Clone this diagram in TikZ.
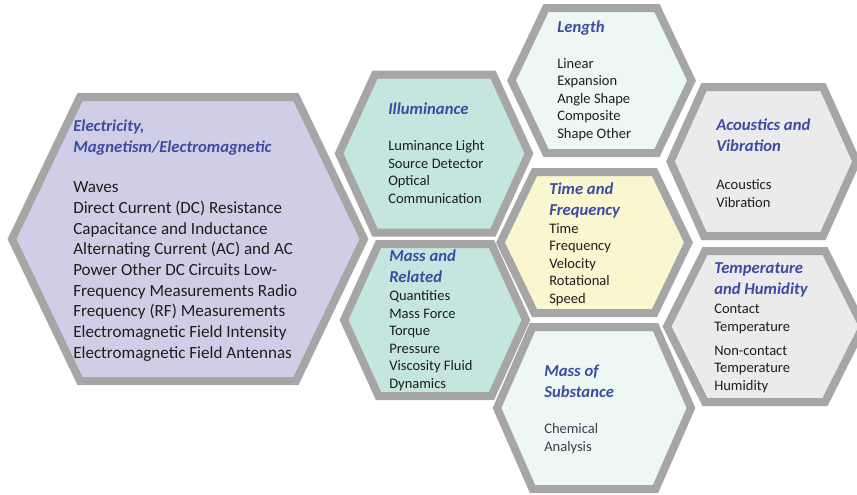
\documentclass[tikz,border=0pt]{standalone}
\usepackage{fontspec}
\setmainfont{Carlito}

\definecolor{cellgray}{HTML}{A6A6A6}
\definecolor{headblue}{HTML}{3C4BA3}
\definecolor{bodyblack}{HTML}{1E1E1E}
\definecolor{subgray}{HTML}{3A3E4E}
\definecolor{lavfill}{HTML}{D0CEE7}
\definecolor{tealfill}{HTML}{C5E5DF}
\definecolor{mintfill}{HTML}{EDF7F3}
\definecolor{yelfill}{HTML}{FAF6CF}
\definecolor{greyfill}{HTML}{EBEBEB}

\tikzset{
  cell/.style={draw=cellgray,line width=6pt,line join=miter},
  head/.style={anchor=base west,align=left,inner sep=0pt,text=headblue,
    font=\fontsize{12.5}{15.3}\selectfont\bfseries\itshape},
  body/.style={anchor=base west,align=left,inner sep=0pt,text=bodyblack,
    font=\fontsize{10.9}{13.1}\selectfont},
  bigbody/.style={body,font=\fontsize{12.8}{15.5}\selectfont},
}

% fill, centre x, centre y, half width, half top edge, half height
\newcommand{\hexcell}[6]{%
  \draw[cell,fill=#1] ({#2-#4},#3) -- ({#2-#5},{#3-#6}) -- ({#2+#5},{#3-#6})
    -- ({#2+#4},#3) -- ({#2+#5},{#3+#6}) -- ({#2-#5},{#3+#6}) -- cycle;}

\begin{document}
\begin{tikzpicture}[x=0.75pt,y=-0.75pt]
\useasboundingbox (0,0) rectangle (857,494);

% hexagon cells:
\hexcell{lavfill}{188}{239}{176}{108}{142}
\hexcell{tealfill}{434}{153.5}{95}{59}{79}
\hexcell{mintfill}{601.5}{80.5}{90}{55.5}{72.5}
\hexcell{yelfill}{594.5}{242.5}{94}{60}{70.5}
\hexcell{greyfill}{763.5}{161.5}{93}{59.5}{74.5}
\hexcell{greyfill}{765}{326.5}{98}{60}{75.5}
\hexcell{tealfill}{435}{320}{91}{56.5}{76}
\hexcell{mintfill}{594}{408}{97}{61.5}{81}

% labels (anchored at the last baseline):
\node[head] (elec-head) at (73,152) {Electricity,\\Magnetism/Electromagnetic};
\node[bigbody] (elec-body) at (73,358) {Waves\\Direct Current (DC) Resistance\\Capacitance and Inductance\\Alternating Current (AC) and AC\\Power Other DC Circuits Low-\\Frequency Measurements Radio\\Frequency (RF) Measurements\\Electromagnetic Field Intensity\\Electromagnetic Field Antennas};

\node[head] (illum-head) at (388,114) {Illuminance};
\node[body] (illum-body) at (388,203) {Luminance Light\\Source Detector\\Optical\\Communication};

\node[head] (len-head) at (557,32) {Length};
\node[body] (len-body) at (557,138) {Linear\\Expansion\\Angle Shape\\Composite\\Shape Other};

\node[head] (time-head) at (549,215) {Time and\\Frequency};
\node[body] (time-body) at (549,303) {Time\\Frequency\\Velocity\\Rotational\\Speed};

\node[head] (acou-head) at (716,151) {Acoustics and\\Vibration};
\node[body] (acou-body) at (716,207) {Acoustics\\Vibration};

\node[head] (temp-head) at (714,294) {Temperature\\and Humidity};
\node[body] (temp-body) at (714,390) {Contact\\Temperature\\[4.9pt]Non-contact\\Temperature\\Humidity};

\node[head] (mass-head) at (389,282) {Mass and\\Related};
\node[body] (mass-body) at (389,388) {Quantities\\Mass Force\\Torque\\Pressure\\Viscosity Fluid\\Dynamics};

\node[head] (subs-head) at (544,397) {Mass of\\Substance};
\node[body,text=subgray] (subs-body) at (544,451) {Chemical\\Analysis};

\end{tikzpicture}
\end{document}
